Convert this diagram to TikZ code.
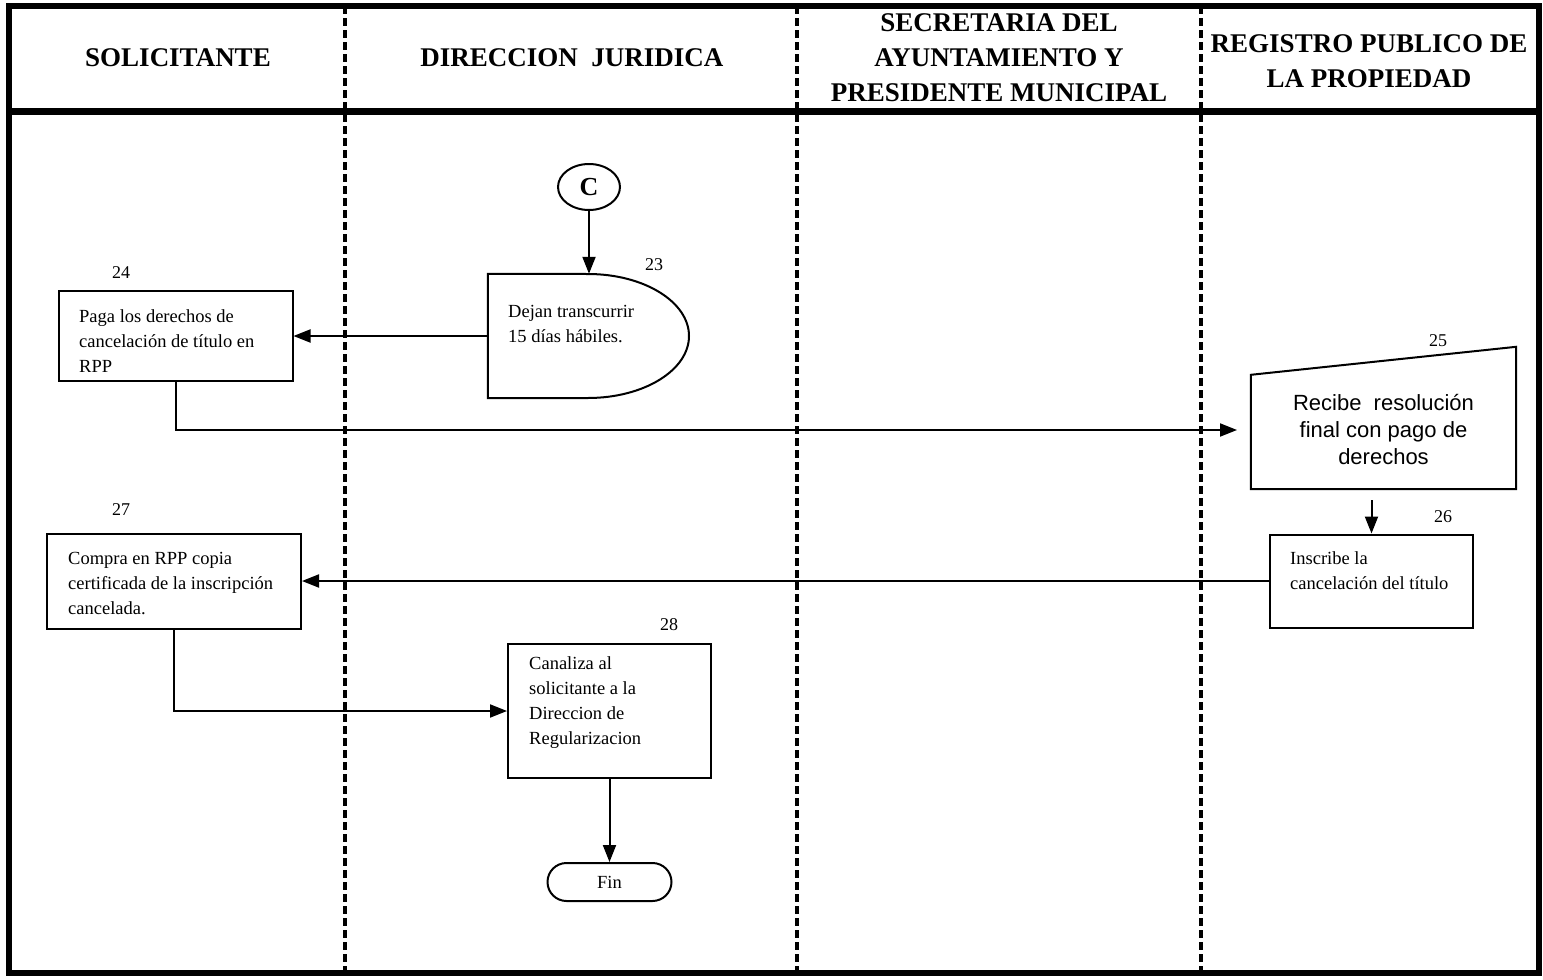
\documentclass[tikz,border=0pt]{standalone}
\usepackage{fontspec}
\setmainfont{Liberation Serif}
\newfontfamily\sansfont{Liberation Sans}
\usetikzlibrary{arrows.meta,shapes.geometric,shapes.misc,calc}

\begin{document}
\begin{tikzpicture}[x=1pt,y=-1pt,
  lane/.style={line width=3.2pt, dash pattern=on 8pt off 4pt},
  frame/.style={line width=6.5pt},
  box/.style={draw, line width=2pt, rectangle, inner sep=0pt},
  ghost/.style={rectangle, inner sep=0pt},
  body/.style={inner sep=0pt, align=left, font=\fontsize{18.5}{25}\selectfont},
  num/.style={inner sep=0pt, font=\fontsize{18}{20}\selectfont},
  head/.style={inner sep=0pt, align=center, font=\bfseries\fontsize{27}{35}\selectfont},
  arr/.style={line width=2pt, -{Triangle[length=17pt,width=13pt]}},
  link/.style={line width=2pt, line join=miter},
]
\useasboundingbox (0,0) rectangle (1543,980);

% swimlane dividers
\draw[lane] (345,6) -- (345,973);
\draw[lane] (797,6) -- (797,973);
\draw[lane] (1201,6) -- (1201,973);

% outer frame and header rule
\draw[frame] (9,6) rectangle (1539,973);
\draw[line width=7pt] (9,111) -- (1539,111);

% lane headings
\node[head] (h1) at (178,58) {SOLICITANTE};
\node[head] (h2) at (572,58) {DIRECCION\ \ JURIDICA};
\node[head] (h3) at (999,58) {SECRETARIA DEL\\AYUNTAMIENTO Y\\PRESIDENTE MUNICIPAL};
\node[head] (h4) at (1369,61) {REGISTRO PUBLICO DE\\LA PROPIEDAD};

% connector C
\node[draw, ellipse, line width=2pt, minimum width=62pt, minimum height=46pt,
      inner sep=0pt, font=\bfseries\fontsize{26}{26}\selectfont] (C) at (589,187) {C};

% 23: delay
\node[ghost, minimum width=201pt, minimum height=124pt] (d23) at (588.5,336) {};
\draw[link] (d23.south west) -- (d23.north west) -- (588,274)
  arc[start angle=90, end angle=-90, x radius=101pt, y radius=62pt] -- cycle;
\node[body, anchor=west] (t23) at (508,324.5) {Dejan transcurrir\\15 días hábiles.};
\node[num] (n23) at (654,265) {23};

% 24
\node[box, minimum width=234pt, minimum height=90pt] (b24) at (175.5,336) {};
\node[body, anchor=west] (t24) at (79,341) {Paga los derechos de\\cancelación de título en\\RPP};
\node[num] (n24) at (121,273) {24};

% 25: manual input
\node[ghost, minimum width=265pt, minimum height=114pt] (b25) at (1383.5,432) {};
\draw[link] (b25.south west) -- (b25.north west) -- ($(b25.north east)+(0,-28)$)
  -- (b25.south east) -- cycle;
\node[inner sep=0pt, align=center, font=\sansfont\fontsize{22}{27}\selectfont] (t25)
  at (1383.5,430) {Recibe\ \ resolución\\final con pago de\\derechos};
\node[num] (n25) at (1438,341) {25};
\coordinate (e25) at (1237,430);

% 26
\node[box, minimum width=203pt, minimum height=93pt] (b26) at (1371.5,581) {};
\node[body, anchor=west] (t26) at (1290,571) {Inscribe la\\cancelación del título};
\node[num] (n26) at (1443,517) {26};
\coordinate (s26) at (1371.5,500);

% 27
\node[box, minimum width=254pt, minimum height=95pt] (b27) at (174,581) {};
\node[body, anchor=west] (t27) at (68,583) {Compra en RPP copia\\certificada de la inscripción\\cancelada.};
\node[num] (n27) at (121,510) {27};

% 28
\node[box, minimum width=203pt, minimum height=134pt] (b28) at (609.5,711) {};
\node[body, anchor=west] (t28) at (529,703) {Canaliza al\\solicitante a la\\Direccion de\\Regularizacion};
\node[num] (n28) at (669,625) {28};

% terminator
\node[draw, rounded rectangle, line width=2pt, minimum width=124pt, minimum height=38pt,
      inner sep=0pt, font=\fontsize{18.5}{20}\selectfont] (fin) at (609.5,882) {Fin};

% flow
\draw[arr] (C.south) -- (C.south |- d23.north);
\draw[arr] (d23.west) -- (b24.east);
\draw[arr] (b24.south) |- (e25);
\draw[arr] (s26) -- (b26.north);
\draw[arr] (b26.west) -- (b27.east);
\draw[arr] (b27.south) |- (b28.west);
\draw[arr] (b28.south) -- (fin.north);
\end{tikzpicture}
\end{document}
